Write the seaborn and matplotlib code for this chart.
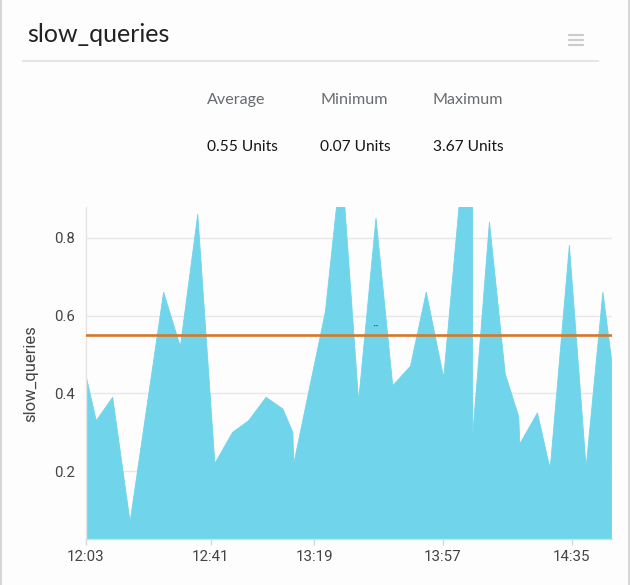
import numpy as np
import pandas as pd
import seaborn as sns
import matplotlib.pyplot as plt
from matplotlib.lines import Line2D

# minutes after 12:03 and the metric value at each sample
minutes = [1.1, 4.4, 9.5, 14.9, 25.3, 30.5, 35.9, 41.2, 46.7, 51.7, 57.1, 62.3,
           65.4, 65.7, 75.5, 80.5, 85.8, 91.2, 96.4, 101.9, 106.8, 112.2, 117.5,
           121.0, 121.2, 126.4, 131.3, 135.5, 135.8, 141.3, 145.1, 145.5, 151.2,
           156.4, 161.6, 164.4]
slow_queries = [0.45, 0.33, 0.39, 0.07, 0.66, 0.52, 0.86, 0.22, 0.30, 0.33, 0.39,
                0.36, 0.30, 0.22, 0.61, 1.00, 0.38, 0.85, 0.42, 0.47, 0.66, 0.44,
                0.93, 3.67, 0.29, 0.84, 0.45, 0.34, 0.27, 0.35, 0.21, 0.23, 0.78,
                0.21, 0.66, 0.48]

tick_pos = [1.2, 40, 72, 112, 152]
tick_labels = ["12:03", "12:41", "13:19", "13:57", "14:35"]
y_ticks = [0.2, 0.4, 0.6, 0.8]

stat_names = ["Average", "Minimum", "Maximum"]
stat_values = ["0.55 Units", "0.07 Units", "3.67 Units"]
avg_value = 0.55

df = pd.DataFrame({"t": minutes, "slow_queries": slow_queries})

sns.set_theme(style="white")
plt.rcParams["font.family"] = ["Roboto", "DejaVu Sans"]

fill_col = "#70d4ea"
fig = plt.figure(figsize=(6.3, 5.85), dpi=100, facecolor="#fdfdfd")
ax = fig.add_axes([0.1359, 0.0786, 0.8354, 0.567])
ax.set_facecolor("#fdfdfd")

ax.fill_between(df["t"], 0, df["slow_queries"], color=fill_col, lw=0, zorder=1)
sns.lineplot(data=df, x="t", y="slow_queries", color=fill_col, lw=0.6, ax=ax, zorder=2)
ax.axhline(avg_value, color="#d4792b", lw=1.9, zorder=3)
# small marker label on the average line
ax.text(91.2, 0.573, "··", fontsize=8, fontweight="bold", color="#555555",
        ha="center", va="center", zorder=4)

ax.set_xlim(minutes[0], minutes[-1])
ax.set_ylim(0.026, 0.878)
ax.set_xticks(tick_pos)
ax.set_xticklabels(tick_labels)
ax.set_yticks(y_ticks)
ax.set_yticklabels([f"{v:.1f}" for v in y_ticks])
ax.tick_params(axis="x", length=4, width=1, color="#d8d8d8", pad=4, labelsize=10.8, labelcolor="#444444", bottom=True)
ax.tick_params(axis="y", length=0, pad=8, labelsize=10.8, labelcolor="#444444")
ax.set_axisbelow(True)
ax.grid(axis="y", color="#e8e8e8", lw=1)
ax.grid(axis="x", visible=False)
for s in ["top", "right"]:
    ax.spines[s].set_visible(False)
ax.spines["left"].set_color("#e4e4e4")
ax.spines["left"].set_linewidth(1)
ax.spines["bottom"].set_color("#b8e9f4")
ax.spines["bottom"].set_linewidth(1)
ax.set_xlabel("")
ax.set_ylabel("slow_queries", fontsize=12, color="#444444")
ax.yaxis.set_label_coords(-0.09, 0.5)

# card header
fig.text(27 / 630, 1 - 34 / 585, "slow_queries", fontsize=18, family=["Lato", "DejaVu Sans"],
         color="#222222", va="center", ha="left")
fig.add_artist(Line2D([23 / 630, 598 / 630], [1 - 61 / 585] * 2, color="#e6e4e9", lw=1.5))
for yy in [35, 39.7, 44.5]:
    fig.add_artist(Line2D([568.5 / 630, 583 / 630], [1 - yy / 585] * 2, color="#cccccc", lw=1.6))
for xx in [0.5 / 630, 629 / 630]:
    fig.add_artist(Line2D([xx, xx], [0, 1], color="#cfcfcf", lw=1.2))

for i, (name, val) in enumerate(zip(stat_names, stat_values)):
    x0 = (207 + 113 * i) / 630
    fig.text(x0, 1 - 104 / 585, name, fontsize=11.6, family=["Lato", "DejaVu Sans"],
             color="#676b70", va="baseline", ha="left")
    fig.text(x0, 1 - 151 / 585, val, fontsize=11.2, family=["Lato", "DejaVu Sans"],
             color="#151515", va="baseline", ha="left")

fig.savefig("out.png", dpi=100, facecolor=fig.get_facecolor())
